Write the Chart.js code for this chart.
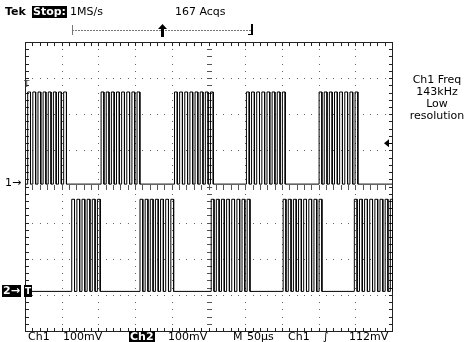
<!DOCTYPE html>
<html>
<head>
<meta charset="utf-8">
<script src="https://cdn.jsdelivr.net/npm/chart.js@4.4.0/dist/chart.umd.min.js"></script>
<style>
  body { margin: 0; background: #fff; }
  #wrap { position: relative; width: 465px; height: 342px; font-family: "DejaVu Sans", sans-serif; font-size: 11px; color: #000; overflow: hidden; }
  #scope { position: absolute; left: 0; top: 0; }
  .t { position: absolute; white-space: nowrap; line-height: 12px; }
  .inv { background: #000; color: #fff; font-weight: bold; padding: 0 1px; }
  .side { position: absolute; left: 400px; width: 74px; top: 74px; text-align: center; line-height: 12px; }
</style>
</head>
<body>
<div id="wrap">
  <canvas id="scope" width="465" height="342"></canvas>

  <div class="t" style="left:5px;top:6px;font-weight:bold">Tek</div>
  <div class="t inv" style="left:32px;top:6px">Stop:</div>
  <div class="t" style="left:70px;top:6px">1MS/s</div>
  <div class="t" style="left:175px;top:6px">167 Acqs</div>

  <div class="side">Ch1 Freq<br>143kHz<br>Low<br>resolution</div>

  <div class="t" style="left:5px;top:177px">1&#8594;</div>
  <div class="t inv" style="left:2px;top:285px">2&#8594;</div>
  <div class="t inv" style="left:24px;top:285px;font-size:9px">T</div>
  <div class="t" style="left:24px;top:78px;font-size:9px;color:#444">T</div>

  <div class="t" style="left:28px;top:331px">Ch1</div>
  <div class="t" style="left:63px;top:331px">100mV</div>
  <div class="t inv" style="left:129px;top:331px">Ch2</div>
  <div class="t" style="left:168px;top:331px">100mV</div>
  <div class="t" style="left:233px;top:331px">M</div>
  <div class="t" style="left:247px;top:331px">50&#181;s</div>
  <div class="t" style="left:288px;top:331px">Ch1</div>
  <div class="t" style="left:323px;top:331px;font-style:italic">&#8747;</div>
  <div class="t" style="left:349px;top:331px">112mV</div>
</div>

<script>
// horizontal: 10 divisions of 50 µs, vertical: 8 divisions
const timeTicks = [0, 50, 100, 150, 200, 250, 300, 350, 400, 450, 500];
const divTicks = [-4, -3, -2, -1, 0, 1, 2, 3, 4];

// bursts (µs from left edge), pulses per burst
const ch1BurstStarts = [3, 103, 203, 301, 400];
const ch1PulseCounts = [8, 8, 8, 8, 8];
const ch2BurstStarts = [63, 156, 253, 351, 448];
const ch2PulseCounts = [6, 7, 8, 8, 8];

const pulsePeriod = 7;    // µs  (143 kHz)
const pulseHigh = 3.8;    // µs
const levelHigh = 255;    // mV
const voltsPerDiv = 100;  // mV/div
const ch1Ground = 0.08;   // div
const ch2Ground = -2.89;  // div
const triggerLevel = 112; // mV on Ch1

const tEnd = timeTicks[timeTicks.length - 1];

function buildTrace(starts, counts, ground) {
  const top = ground + levelHigh / voltsPerDiv;
  const pts = [{x: 0, y: ground}];
  starts.forEach((s, i) => {
    for (let k = 0; k < counts[i]; k++) {
      const t0 = s + k * pulsePeriod;
      if (t0 >= tEnd) break;
      const t1 = Math.min(t0 + pulseHigh, tEnd);
      pts.push({x: t0, y: ground}, {x: t0, y: top}, {x: t1, y: top}, {x: t1, y: ground});
    }
  });
  pts.push({x: tEnd, y: ground});
  return pts;
}

const graticule = {
  id: 'graticule',
  beforeDatasetsDraw(chart) {
    const {ctx, scales: {x, y}} = chart;
    const xs = timeTicks[1] - timeTicks[0];
    const px = v => Math.round(x.getPixelForValue(v));
    const py = v => Math.round(y.getPixelForValue(v));
    ctx.save();

    // dotted division lines
    ctx.fillStyle = '#666';
    timeTicks.forEach(t => {
      for (let k = 0; k <= 40; k++) ctx.fillRect(px(t), py(-4 + k * 0.2), 1, 1);
    });
    divTicks.forEach(d => {
      for (let k = 0; k <= 50; k++) ctx.fillRect(px(k * xs / 5), py(d), 1, 1);
    });

    // centre cross with minor ticks
    ctx.fillStyle = '#555';
    const cx = px(tEnd / 2), cy = py(0);
    for (let k = 0; k <= 40; k++) ctx.fillRect(cx - 2, py(-4 + k * 0.2), 5, 1);
    for (let k = 0; k <= 50; k++) ctx.fillRect(px(k * xs / 5), cy - 2, 1, 5);

    // frame with inward ticks
    const l = px(0), r = px(tEnd), tp = py(4), b = py(-4);
    ctx.fillStyle = '#222';
    ctx.fillRect(l, tp, r - l + 1, 1);
    ctx.fillRect(l, b, r - l + 1, 1);
    ctx.fillRect(l, tp, 1, b - tp + 1);
    ctx.fillRect(r, tp, 1, b - tp + 1);
    for (let k = 0; k <= 50; k++) {
      const xx = px(k * xs / 5);
      ctx.fillRect(xx, tp, 1, 4);
      ctx.fillRect(xx, b - 3, 1, 4);
    }
    for (let k = 0; k <= 40; k++) {
      const yy = py(-4 + k * 0.2);
      ctx.fillRect(l, yy, 4, 1);
      ctx.fillRect(r - 3, yy, 4, 1);
    }

    // record position bracket above the screen
    ctx.fillStyle = '#777';
    for (let xx = 72; xx < 252; xx += 3) ctx.fillRect(xx, 30, 2, 1);
    ctx.fillRect(72, 25, 1, 10);
    ctx.fillStyle = '#000';
    ctx.fillRect(251, 24, 2, 11);
    ctx.fillRect(248, 34, 4, 1);
    ctx.fillRect(161, 28, 3, 9);
    ctx.beginPath();
    ctx.moveTo(158, 29); ctx.lineTo(162.5, 24); ctx.lineTo(167, 29); ctx.closePath();
    ctx.fill();

    // trigger level marker
    const ty = y.getPixelForValue(ch1Ground + triggerLevel / voltsPerDiv);
    ctx.beginPath();
    ctx.moveTo(r - 8, ty); ctx.lineTo(r - 3, ty - 4); ctx.lineTo(r - 3, ty + 4); ctx.closePath();
    ctx.fill();
    ctx.fillRect(r - 4, Math.round(ty), 4, 1);
    ctx.restore();
  },
  // half-pixel shift so the 1px traces land on whole pixels
  beforeDatasetDraw(chart) {
    chart.ctx.save();
    chart.ctx.translate(0.5, 0.5);
  },
  afterDatasetDraw(chart) {
    chart.ctx.restore();
  }
};

new Chart(document.getElementById('scope'), {
  type: 'scatter',
  data: {
    datasets: [
      { label: 'Ch1', data: buildTrace(ch1BurstStarts, ch1PulseCounts, ch1Ground) },
      { label: 'Ch2', data: buildTrace(ch2BurstStarts, ch2PulseCounts, ch2Ground) }
    ]
  },
  options: {
    responsive: false,
    animation: false,
    showLine: true,
    layout: { padding: { left: 25, right: 73, top: 42, bottom: 11 } },
    elements: {
      point: { radius: 0 },
      line: { borderColor: '#000', borderWidth: 1, tension: 0 }
    },
    scales: {
      x: { type: 'linear', display: false, min: 0, max: tEnd },
      y: { type: 'linear', display: false, min: -4, max: 4 }
    },
    plugins: {
      legend: { display: false },
      tooltip: { enabled: false }
    }
  },
  plugins: [graticule]
});
</script>
</body>
</html>
